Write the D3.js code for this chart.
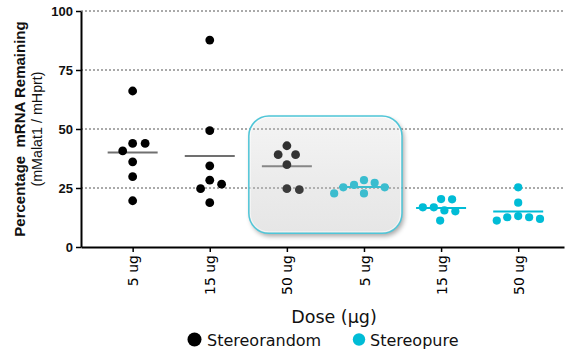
<!DOCTYPE html>
<html><head><meta charset="utf-8">
<script src="https://cdn.jsdelivr.net/npm/d3@7"></script>
<style>html,body{margin:0;padding:0;background:#fff;}svg{display:block;}</style>
</head><body>
<svg id="chart" width="566" height="351"></svg>
<script>
// ---- data ----
const doseLabels = ["5 ug", "15 ug", "50 ug"];
const seriesNames = ["Stereorandom", "Stereopure"];
const stereorandom = [
  [66.1, 43.9, 43.9, 40.7, 36.1, 29.8, 19.6],
  [87.7, 49.3, 34.4, 28.3, 26.6, 24.7, 18.8],
  [42.9, 39.1, 39.1, 34.9, 24.7, 24.3]
];
const stereopure = [
  [28.3, 27.2, 26.3, 25.3, 25.3, 22.7, 22.7],
  [20.3, 20.2, 16.8, 16.8, 15.5, 15.1, 11.2],
  [25.3, 18.8, 13.1, 12.6, 12.6, 11.9, 11.2]
];
const yTicks = [0, 25, 50, 75, 100];
const highlighted = [2, 3]; // group indices inside the highlight box

const colors = {Stereorandom: "#000000", Stereopure: "#00bcd6"};
const meanColors = {Stereorandom: "#707070", Stereopure: "#00bcd6"};

(function () {
// ---- groups ----
const groups = [];
seriesNames.forEach((s, si) => {
  const src = si === 0 ? stereorandom : stereopure;
  doseLabels.forEach((d, di) => groups.push({series: s, label: d, values: src[di]}));
});

const svg = d3.select("#chart");
const W = 566, H = 351;
const pLeft = 81, pRight = 564, pTop = 11, pBottom = 247;

const x = d3.scalePoint().domain(d3.range(groups.length)).range([pLeft, pRight]).padding(0.632).align(0.53);
const y = d3.scaleLinear().domain([0, 100]).range([pBottom, pTop]);

const defs = svg.append("defs");
const grad = defs.append("linearGradient").attr("id", "boxGrad").attr("x1", 0).attr("y1", 0).attr("x2", 0).attr("y2", 1);
grad.append("stop").attr("offset", "0%").attr("stop-color", "rgb(200,200,200)").attr("stop-opacity", 0.2);
grad.append("stop").attr("offset", "60%").attr("stop-color", "rgb(190,190,190)").attr("stop-opacity", 0.31);
grad.append("stop").attr("offset", "100%").attr("stop-color", "rgb(185,185,185)").attr("stop-opacity", 0.36);
const blur = defs.append("filter").attr("id", "blur").attr("x", "-20%").attr("y", "-20%").attr("width", "140%").attr("height", "140%");
blur.append("feGaussianBlur").attr("stdDeviation", 2.5);

// ---- gridlines ----
svg.append("g").selectAll("line").data(yTicks.filter(t => t > 0)).join("line")
  .attr("x1", pLeft).attr("x2", pRight).attr("y1", d => y(d)).attr("y2", d => y(d))
  .attr("stroke", "#555").attr("stroke-width", 1).attr("stroke-dasharray", "2,2");

// ---- swarm layout ----
function swarm(values, D) {
  const placed = [];
  values.slice().sort((a, b) => b - a).forEach(v => {
    const py = y(v);
    const cands = [0];
    placed.forEach(p => {
      const dy = Math.abs(p.y - py);
      if (dy < D) { const dx = Math.sqrt(D * D - dy * dy); cands.push(p.dx + dx, p.dx - dx); }
    });
    cands.sort((a, b) => Math.abs(a) - Math.abs(b) || b - a);
    const ok = c => placed.every(p => (p.dx - c) ** 2 + (p.y - py) ** 2 >= D * D - 1e-6);
    placed.push({v, y: py, dx: cands.find(ok)});
  });
  return placed;
}

// ---- dots and means ----
const gData = svg.append("g");
groups.forEach((g, i) => {
  const cx = x(i);
  const sr = g.series === "Stereorandom";
  const r = sr ? 4.4 : 4.1;
  const pts = swarm(g.values, sr ? 12.5 : 11);
  const m = d3.mean(g.values);
  gData.append("line").attr("x1", cx - 25).attr("x2", cx + 25).attr("y1", y(m)).attr("y2", y(m))
    .attr("stroke", meanColors[g.series]).attr("stroke-width", 2);
  gData.append("g").selectAll("circle").data(pts).join("circle")
    .attr("cx", d => cx + d.dx).attr("cy", d => d.y).attr("r", r)
    .attr("fill", colors[g.series]);
});

// ---- highlight box ----
const bx0 = (x(highlighted[0]) + x(highlighted[0] - 1)) / 2 + 0.5;
const bx1 = (x(highlighted[1]) + x(highlighted[1] + 1)) / 2 - 0.5;
const by0 = y(55.5), by1 = y(5.8);
const mask = defs.append("mask").attr("id", "outside");
mask.append("rect").attr("x", 0).attr("y", 0).attr("width", W).attr("height", H).attr("fill", "#fff");
mask.append("rect").attr("x", bx0).attr("y", by0).attr("width", bx1 - bx0).attr("height", by1 - by0).attr("rx", 20).attr("fill", "#000");
svg.append("g").attr("mask", "url(#outside)")
  .append("rect").attr("x", bx0 + 2).attr("y", by0 + 3).attr("width", bx1 - bx0).attr("height", by1 - by0).attr("rx", 20)
  .attr("fill", "#000").attr("opacity", 0.35).attr("filter", "url(#blur)");
svg.append("rect").attr("x", bx0).attr("y", by0).attr("width", bx1 - bx0).attr("height", by1 - by0).attr("rx", 20)
  .attr("fill", "url(#boxGrad)");
svg.append("rect").attr("x", bx0 + 1.5).attr("y", by0 + 1.5).attr("width", bx1 - bx0 - 3).attr("height", by1 - by0 - 3).attr("rx", 18.5)
  .attr("fill", "none").attr("stroke", "#ffffff").attr("stroke-opacity", 0.6).attr("stroke-width", 1);
svg.append("rect").attr("x", bx0).attr("y", by0).attr("width", bx1 - bx0).attr("height", by1 - by0).attr("rx", 20)
  .attr("fill", "none").attr("stroke", "#4fc6d8").attr("stroke-width", 1.5);

// ---- axes ----
const yAxis = svg.append("g").attr("transform", `translate(${pLeft},0)`)
  .call(d3.axisLeft(y).tickValues(yTicks).tickSize(5).tickSizeOuter(0).tickPadding(3));
yAxis.select(".domain").attr("stroke", "#000").attr("stroke-width", 2);
yAxis.selectAll(".tick line").attr("stroke", "#000").attr("stroke-width", 1.5);
yAxis.selectAll(".tick text").attr("fill", "#111").style("font-family", "'Liberation Sans', Arial, sans-serif")
  .style("font-size", "13px").style("font-weight", "bold");

const xAxis = svg.append("g").attr("transform", `translate(0,${pBottom})`)
  .call(d3.axisBottom(x).tickSize(5).tickSizeOuter(0).tickFormat(i => groups[i].label));
xAxis.select(".domain").attr("stroke", "#000").attr("stroke-width", 2);
xAxis.selectAll(".tick line").attr("stroke", "#000").attr("stroke-width", 1.5);
xAxis.selectAll(".tick text")
  .attr("transform", "rotate(-90)").attr("x", -8).attr("y", 0).attr("dy", "0.36em")
  .style("text-anchor", "end").attr("fill", "#000")
  .style("font-family", "'DejaVu Sans', Verdana, sans-serif").style("font-size", "14px").style("font-weight", "normal");

// ---- axis titles ----
const midY = (pTop + pBottom) / 2;
svg.append("text").attr("transform", `translate(25,${midY}) rotate(-90)`).attr("text-anchor", "middle")
  .style("font-family", "'Liberation Sans', Arial, sans-serif").style("font-size", "15px").style("font-weight", "bold")
  .style("white-space", "pre").attr("fill", "#111").text("Percentage  mRNA Remaining");
svg.append("text").attr("transform", `translate(41.5,${midY}) rotate(-90)`).attr("text-anchor", "middle")
  .style("font-family", "'Liberation Sans', Arial, sans-serif").style("font-size", "14.3px").style("font-weight", "normal")
  .attr("fill", "#111").text("(mMalat1 / mHprt)");
svg.append("text").attr("x", 334).attr("y", 323).attr("text-anchor", "middle")
  .style("font-family", "'DejaVu Sans', Verdana, sans-serif").style("font-size", "17.5px")
  .attr("fill", "#111").text("Dose (µg)");

// ---- legend ----
const legendItems = [
  {name: seriesNames[0], cx: 194.5, r: 7, tx: 207},
  {name: seriesNames[1], cx: 359, r: 6.2, tx: 370}
];
const lg = svg.append("g");
legendItems.forEach(it => {
  lg.append("circle").attr("cx", it.cx).attr("cy", 339.5).attr("r", it.r).attr("fill", colors[it.name]);
  lg.append("text").attr("x", it.tx).attr("y", 345.5)
    .style("font-family", "'DejaVu Sans', Verdana, sans-serif").style("font-size", "16px")
    .attr("fill", "#111").text(it.name);
});
})();
</script>
</body></html>
